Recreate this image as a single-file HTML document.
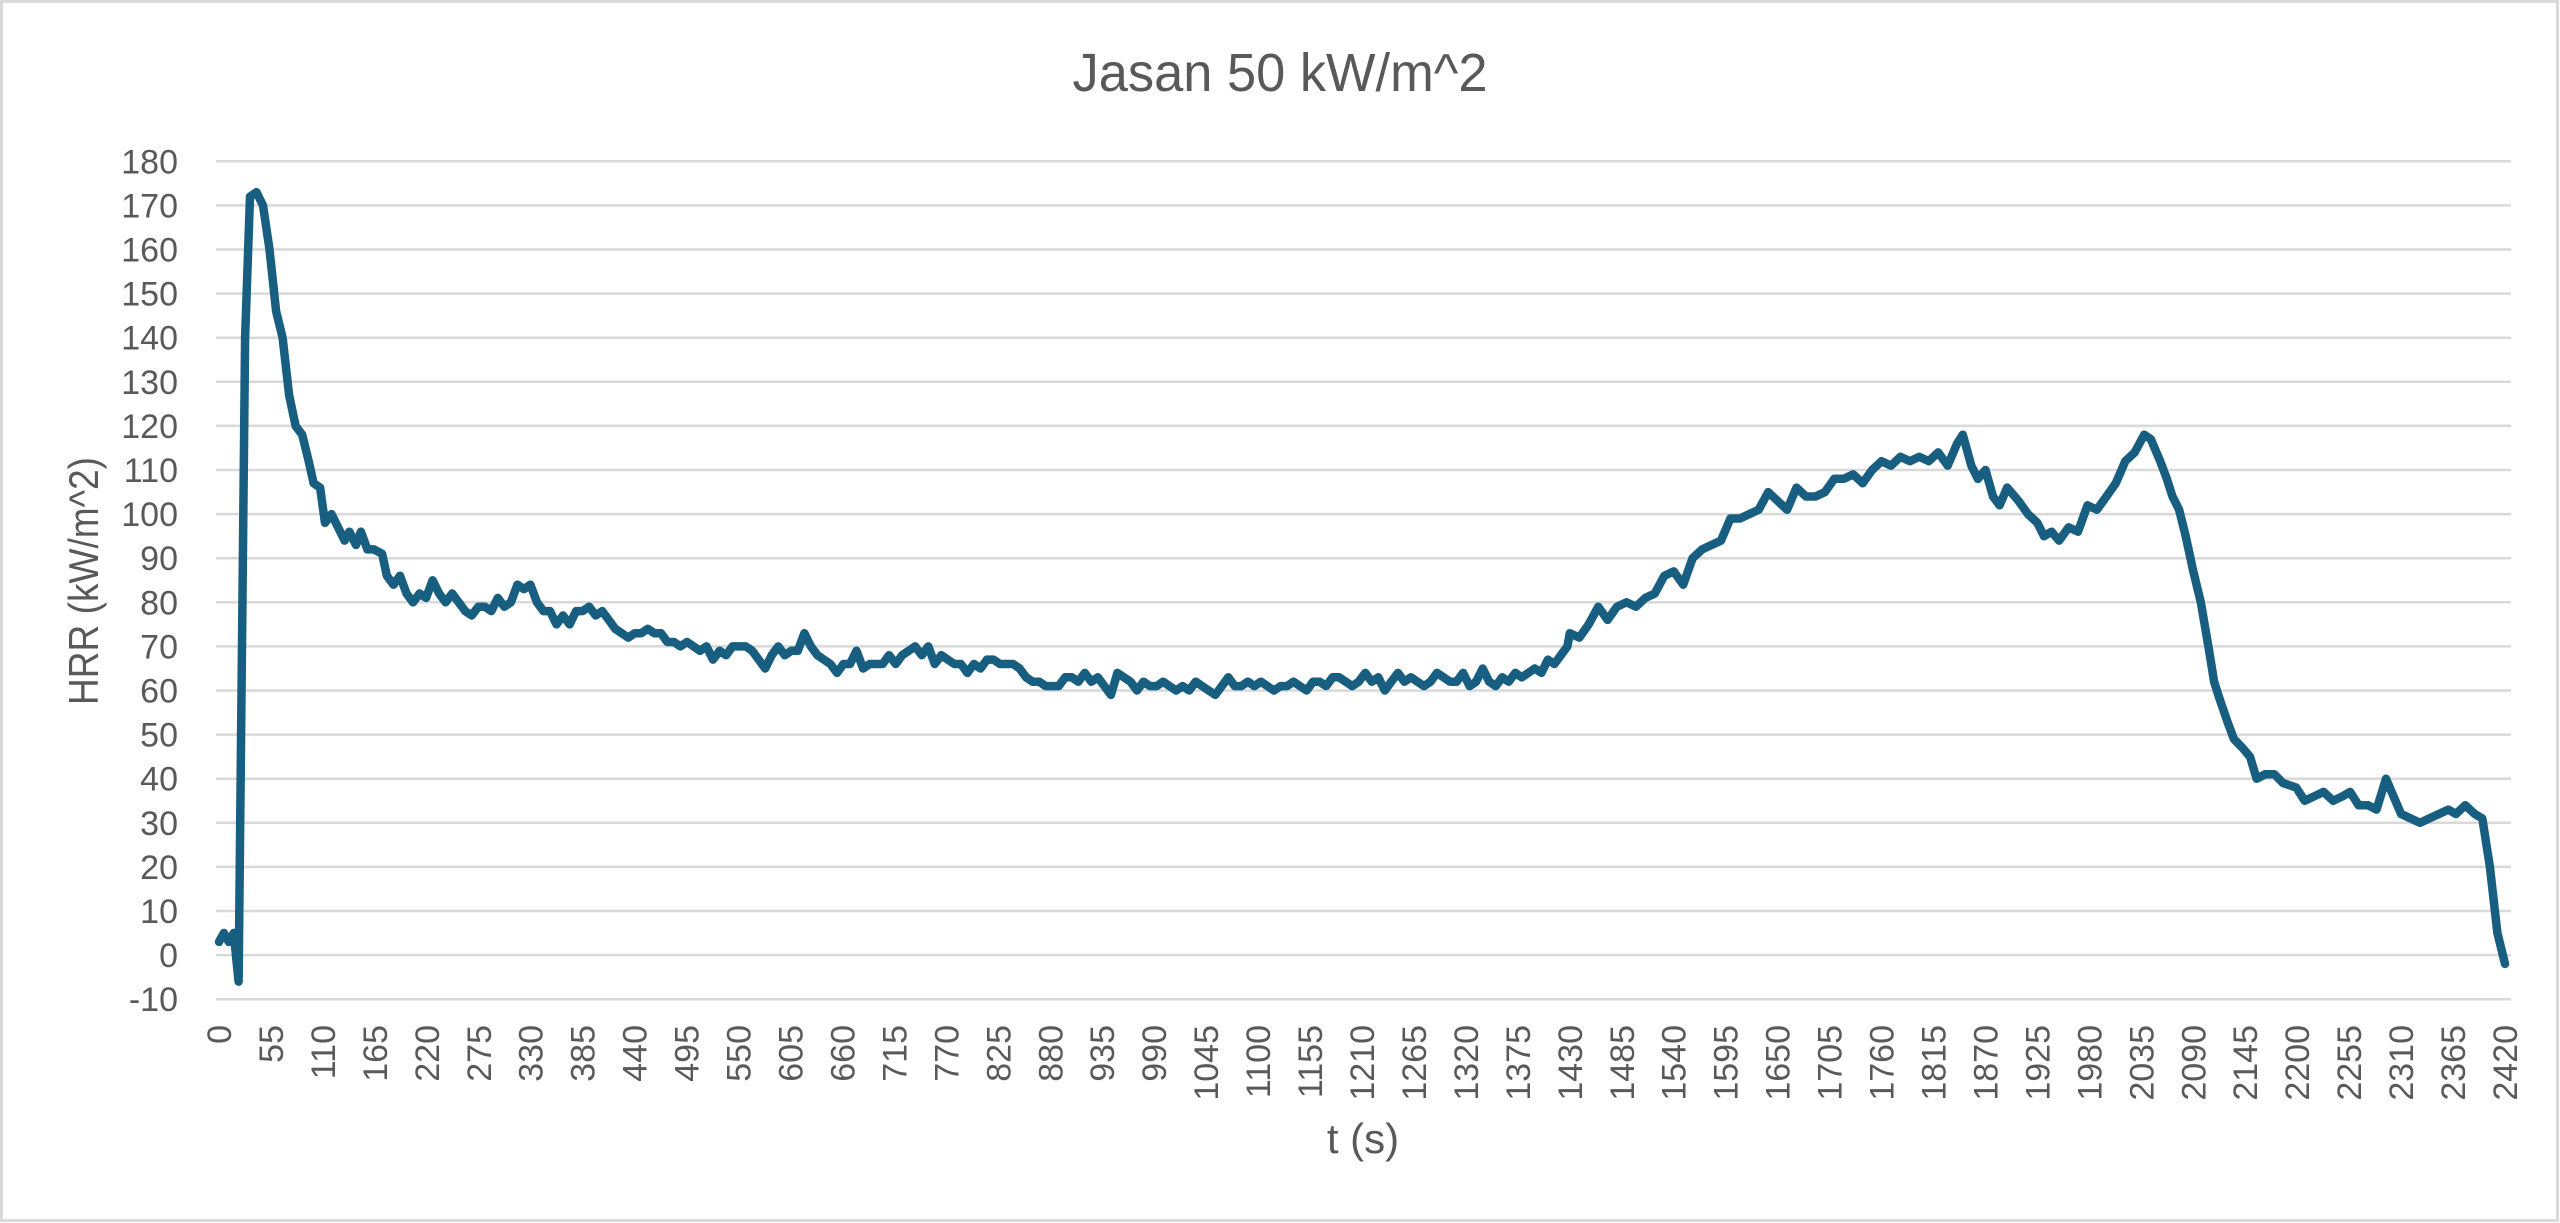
<!DOCTYPE html>
<html><head><meta charset="utf-8"><style>
html,body{margin:0;padding:0;background:#fff;}
svg{display:block;}
text{font-family:"Liberation Sans",sans-serif;fill:#595959;}
</style></head><body>
<svg id="s" width="2560" height="1223" xmlns="http://www.w3.org/2000/svg">
<rect x="1.5" y="1.5" width="2556" height="1219" fill="#fff" stroke="#d9d9d9" stroke-width="3"/>
<text x="1280" y="91" font-size="54" text-anchor="middle" textLength="415" lengthAdjust="spacingAndGlyphs">Jasan 50 kW/m^2</text>
<text transform="translate(98,581) rotate(-90)" font-size="42" text-anchor="middle" textLength="248" lengthAdjust="spacingAndGlyphs">HRR (kW/m^2)</text>
<text x="1363" y="1153" font-size="42" text-anchor="middle">t (s)</text>
<g id="grid"></g><g id="yl"></g><g id="xl"></g>
<path id="line" fill="none" stroke="#175E80" stroke-width="8.5" stroke-linejoin="round" stroke-linecap="round"/>
</svg>
<script>
var NS="http://www.w3.org/2000/svg";
function Y(v){return 161.3+(180-v)*4.41;}
function X(t){return 219+t*(2505-219)/2420;}
var g=document.getElementById('grid'),yl=document.getElementById('yl'),xl=document.getElementById('xl');
for(var v=-10;v<=180;v+=10){
 var l=document.createElementNS(NS,'line');l.setAttribute('x1',216);l.setAttribute('x2',2511);
 l.setAttribute('y1',Y(v));l.setAttribute('y2',Y(v));l.setAttribute('stroke','#d9d9d9');l.setAttribute('stroke-width','2.5');g.appendChild(l);
 var t=document.createElementNS(NS,'text');t.setAttribute('x',178);t.setAttribute('y',Y(v)+12);t.setAttribute('font-size','34');t.setAttribute('text-anchor','end');t.textContent=v;yl.appendChild(t);
}
for(var k=0;k<=2420;k+=55){
 var t=document.createElementNS(NS,'text');var x=X(k)+12;
 t.setAttribute('transform','translate('+x+',1025) rotate(-90)');t.setAttribute('font-size','34');t.setAttribute('text-anchor','end');t.textContent=k;xl.appendChild(t);
}
var s1=[133,3,136,5,139,3,142,5,145,-6,149,140,152,172,156,173,160,170,164,160,168,146,172,140,176,127,180,120,184,118,188,112,191,107,195,106,198,98,202,100,206,97,210,94,213,96,217,93,220,96,224,92,228,92,233,91,236,86,240,84,244,86,248,82,252,80,256,82,260,81,264,85,268,82,272,80,276,82,280,80,284,78,288,77,292,79,296,79,300,78,304,81,308,79,312,80,316,84,320,83,324,84,328,80,332,78,336,78,340,75,344,77,348,75,352,78,356,78,360,79,364,77,368,78,372,76,376,74,380,73,384,72,388,73,392,73,396,74,400,73,404,73,408,71,412,71,416,70,420,71,424,70,428,69,432,70,436,67,440,69,444,68,448,70,452,70,456,70,460,69,464,67,468,65,472,68,476,70,480,68,484,69,488,69,492,73,496,70,500,68,504,67,508,66,512,64,516,66,520,66,524,69,528,65,532,66,536,66,540,66,544,68,548,66,552,68,556,69,560,70,564,68,568,70,572,66,576,68,580,67,584,66,588,66,592,64,596,66,600,65,604,67,608,67,612,66,616,66,620,66,624,65,628,63,632,62,636,62,640,61,644,61,648,61,652,63,656,63,660,62,664,64,668,62,672,63,676,61,680,59,684,64,688,63,692,62,696,60,700,62,704,61,708,61,712,62,716,61,720,60,724,61,728,60,732,62,736,61,740,60,744,59,748,61,752,63,756,61,760,61,764,62,768,61,772,62,776,61,780,60,784,61,788,61,792,62,796,61,800,60,804,62,808,62,812,61,816,63,820,63,824,62,828,61,832,62,836,64,840,62,844,63,848,60,852,62,856,64,860,62,864,63,868,62,872,61,876,62,880,64,884,63,888,62,892,62,896,64,900,61,904,62,908,65,912,62,916,61,920,63,924,62,928,64,932,63,936,64,940,65,944,64,948,67,952,66,956,68,960,70];
var s2=[1430,73,1440,72,1450,75,1460,79,1470,76,1480,79,1490,80,1500,79,1510,81,1520,82,1530,86,1540,87,1550,84,1560,90,1570,92,1580,93,1590,94,1600,99,1610,99,1620,100,1630,101,1640,105,1650,103,1660,101,1670,106,1680,104,1690,104,1700,105,1710,108,1720,108,1730,109,1740,107,1750,110,1760,112,1770,111,1780,113,1790,112,1800,113,1810,112,1820,114,1830,111,1840,116,1846,118,1855,111,1862,108,1870,110,1878,104,1885,102,1893,106,1905,103,1915,100,1925,98,1932,95,1940,96,1948,94,1958,97,1968,96,1978,102,1988,101,1998,104,2008,107,2018,112,2028,114,2038,118,2045,117,2055,112,2062,108,2068,104,2075,101,2082,95,2090,87,2098,80,2106,70,2112,62,2118,58,2126,53,2133,49,2142,47,2150,45,2157,40,2166,41,2176,41,2185,39,2199,38,2208,35,2218,36,2228,37,2238,35,2248,36,2256,37,2265,34,2275,34,2284,33,2294,40,2302,36,2310,32,2320,31,2330,30,2340,31,2350,32,2360,33,2368,32,2378,34,2388,32,2396,31,2404,20,2412,5,2420,-2];
var d='';
for(var i=0;i<s1.length;i+=2){var x=219+(s1[i]-133)*(2286/1402);d+=(i?'L':'M')+x.toFixed(1)+' '+Y(s1[i+1]).toFixed(1);}
for(var i=0;i<s2.length;i+=2){d+='L'+X(s2[i]).toFixed(1)+' '+Y(s2[i+1]).toFixed(1);}
document.getElementById('line').setAttribute('d',d);
</script>
</body></html>
